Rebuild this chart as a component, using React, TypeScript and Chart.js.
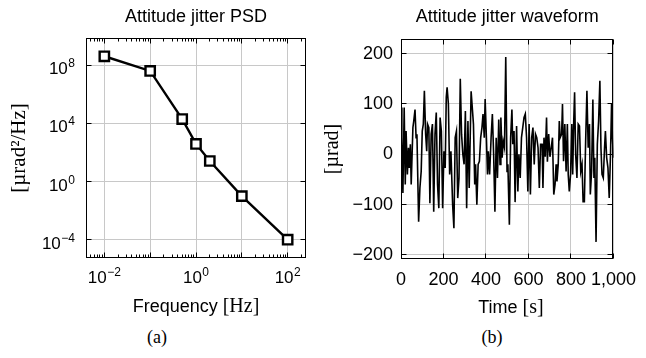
import React, { useEffect, useRef } from 'react';
import { Chart, registerables } from 'chart.js';
Chart.register(...registerables);

const SANS = '"Liberation Sans", Arial, sans-serif';
const SERIF = '"Liberation Serif", "Times New Roman", serif';
const GRID = '#c8c8c8';

// ---------- (a) Attitude jitter PSD ----------
const psdFrequency = [0.01, 0.1, 0.5, 1, 2, 10, 100];
const psdValue = [4.2e8, 4.1e7, 2.0e4, 390, 26, 0.1, 1e-4];
const psdXMajorTicks = [0.01, 0.1, 1, 10, 100];
const psdXLabelExponents = [-2, 0, 2];
const psdYMajorTicks = [1e-4, 1, 1e4, 1e8];
const psdYLabelExponents = [-4, 0, 4, 8];
const psdXRange = [10 ** -2.4, 10 ** 2.4];
const psdYRange = [10 ** -5.26, 10 ** 9.88];

// ---------- (b) Attitude jitter waveform ----------
const waveTime = [
  0, 4, 9, 15, 20, 24, 30, 35, 39, 44, 48, 56, 60, 66, 71, 75, 83, 89, 95, 100,
  105, 110, 116, 121, 125, 131, 136, 142, 148, 154, 160, 166, 172, 178, 184, 190, 196, 202, 208, 213,
  217, 223, 229, 235, 243, 249, 255, 261, 267, 273, 279, 285, 291, 297, 303, 309, 315, 321,
  330, 341, 347, 351, 357, 363, 369, 375, 381, 386, 392, 396, 402, 407, 411, 417, 424, 430, 436, 442,
  448, 454, 460, 466, 470, 476, 481, 487, 493, 499, 503, 510, 516, 522, 526, 532, 537, 544, 550, 555,
  561, 567, 573, 579, 585, 591, 597, 603, 609, 615, 621, 627, 633, 639, 645, 651, 657,
  664, 668, 673, 679, 685, 689, 695, 701, 707, 713, 719, 725, 730, 734, 740, 745, 749, 756, 760, 765,
  771, 777, 783, 787, 792, 798, 804, 808, 813, 817, 822, 828, 834, 840, 846, 852, 857, 863, 869, 875,
  881, 887, 891, 897, 903, 908, 912, 918, 924, 930, 936, 941, 946, 952, 958, 962, 968, 974, 980, 986,
  991, 995, 1000,
];
const waveValue = [
  93, 33, -77, 93, -60, 46, -40, 13, -27, 20, -60, 53, 66, 89, 33, 40, -134, -67, -34, 46,
  60, 126, 40, 6, 60, 53, -97, 40, 60, -114, 40, 83, -60, -107, 73, 46, -107, 6, -27, 113,
  133, 100, -40, 6, -100, -147, 33, 46, -87, -47, 150, 40, 0, -20, 86, -107, 66, -67,
  125, 60, -60, -20, -100, -20, -14, 33, 53, 80, 33, 110, 33, -40, 6, -40, 33, 80, 0, -114,
  33, -47, 69, -20, 73, -7, 26, 13, 193, -34, -20, -140, 33, 89, 20, 46, -95, 56, -74, 0,
  -47, 33, 53, 73, 80, 33, -74, 60, -80, 33, 53, -20, 40, 33, 13, -67, 20,
  20, -67, 33, -5, 73, -15, 40, -5, 13, 33, -80, -60, -20, -54, -20, 66, 33, 40, 100, -14,
  60, -34, 60, -40, -74, -40, 60, -40, 66, 123, 0, -47, 60, 56, -34, -20, -94, -94, 26, 126,
  13, 60, -80, -34, 109, -47, -7, -174, 20, 66, 146, 13, -40, -47, 13, 46, -7, -27, -87, 0,
  100, 33, -7,
];
const waveXTicks = [0, 200, 400, 600, 800, 1000];
const waveXLabels = ['0', '200', '400', '600', '800', '1,000'];
const waveYTicks = [-200, -100, 0, 100, 200];
const waveYLabels = ['\u2212200', '\u2212100', '0', '100', '200'];
const waveXRange = [0, 1000];
const waveYRange = [-208, 229];

// minor tick positions of the log frequency axis (2..9 x decade)
const psdXMinorTicks: number[] = [];
for (let d = -3; d <= 2; d++) {
  for (let m = 2; m <= 9; m++) {
    const v = m * 10 ** d;
    if (v > psdXRange[0] && v < psdXRange[1]) psdXMinorTicks.push(v);
  }
}

function drawPow(ctx: CanvasRenderingContext2D, exp: number, x: number, baseY: number, align: 'center' | 'right') {
  const base = 17;
  const sup = 12;
  const es = exp < 0 ? '\u2212' + Math.abs(exp) : String(exp);
  ctx.font = `${base}px ${SANS}`;
  const w1 = ctx.measureText('10').width;
  ctx.font = `${sup}px ${SANS}`;
  const w2 = ctx.measureText(es).width;
  const gap = 0.5;
  const total = w1 + gap + w2;
  const x0 = align === 'center' ? x - total / 2 : x - total;
  ctx.textAlign = 'left';
  ctx.textBaseline = 'alphabetic';
  ctx.fillStyle = '#000';
  ctx.font = `${base}px ${SANS}`;
  ctx.fillText('10', x0, baseY);
  ctx.font = `${sup}px ${SANS}`;
  ctx.fillText(es, x0 + w1 + gap, baseY - 7);
}

const frameTicks = {
  id: 'frameTicks',
  afterDatasetsDraw(chart: any, _args: any, opts: any) {
    const { ctx, chartArea: a, scales } = chart;
    const xs = scales.x;
    const ys = scales.y;
    const L = Math.floor(a.left) + 0.5;
    const R = Math.floor(a.right) - 0.5;
    const T = Math.floor(a.top) + 0.5;
    const B = Math.floor(a.bottom) - 0.5;
    ctx.save();
    ctx.strokeStyle = '#000';
    ctx.lineWidth = 1;
    const xt = (v: number, len: number) => {
      const p = Math.floor(xs.getPixelForValue(v)) + 0.5;
      ctx.beginPath();
      ctx.moveTo(p, B);
      ctx.lineTo(p, B - len);
      ctx.moveTo(p, T);
      ctx.lineTo(p, T + len);
      ctx.stroke();
    };
    const yt = (v: number, len: number) => {
      const p = Math.floor(ys.getPixelForValue(v)) + 0.5;
      ctx.beginPath();
      ctx.moveTo(L, p);
      ctx.lineTo(L + len, p);
      ctx.moveTo(R, p);
      ctx.lineTo(R - len, p);
      ctx.stroke();
    };
    (opts.xMajor || []).forEach((v: number) => xt(v, 5));
    (opts.xMinor || []).forEach((v: number) => xt(v, 3));
    (opts.yMajor || []).forEach((v: number) => yt(v, 5));
    ctx.strokeRect(L, T, R - L, B - T);
    if (opts.powLabels) {
      psdXLabelExponents.forEach((e) => {
        drawPow(ctx, e, xs.getPixelForValue(10 ** e), a.bottom + 25, 'center');
      });
      psdYLabelExponents.forEach((e) => {
        drawPow(ctx, e, a.left - 11, ys.getPixelForValue(10 ** e) + 9, 'right');
      });
    }
    ctx.restore();
  },
};

function titleOpts(text: string, bottom: number) {
  return {
    display: true,
    text,
    color: '#000',
    fullSize: false,
    align: 'center' as const,
    font: { family: SANS, size: 18, weight: 'normal' as const, lineHeight: 1.2 },
    padding: { top: 6, bottom },
  };
}

function psdConfig(): any {
  return {
    type: 'line',
    data: {
      datasets: [
        {
          data: psdFrequency.map((f, i) => ({ x: f, y: psdValue[i] })),
          borderColor: '#000',
          borderWidth: 2.4,
          pointStyle: 'rect',
          pointRadius: 6.6,
          pointBorderWidth: 2.4,
          pointBackgroundColor: '#fff',
          pointBorderColor: '#000',
          tension: 0,
        },
      ],
    },
    plugins: [frameTicks],
    options: {
      responsive: false,
      animation: false,
      devicePixelRatio: 1,
      layout: { padding: { left: 0, right: 17, top: 0, bottom: 0 } },
      plugins: {
        legend: { display: false },
        tooltip: { enabled: false },
        title: titleOpts('Attitude jitter PSD', 10.4),
        frameTicks: { xMajor: psdXMajorTicks, xMinor: psdXMinorTicks, yMajor: psdYMajorTicks, powLabels: true },
      },
      scales: {
        x: {
          type: 'logarithmic',
          min: psdXRange[0],
          max: psdXRange[1],
          afterBuildTicks: (s: any) => {
            s.ticks = psdXMajorTicks.map((v) => ({ value: v }));
          },
          afterFit: (s: any) => {
            s.height = 37;
          },
          ticks: { display: false },
          grid: { color: GRID, lineWidth: 1, drawTicks: false },
          border: { display: false },
        },
        y: {
          type: 'logarithmic',
          min: psdYRange[0],
          max: psdYRange[1],
          afterBuildTicks: (s: any) => {
            s.ticks = psdYMajorTicks.map((v) => ({ value: v }));
          },
          afterFit: (s: any) => {
            s.width = 86;
          },
          ticks: { display: false },
          grid: { color: GRID, lineWidth: 1, drawTicks: false },
          border: { display: false },
          title: {
            display: true,
            text: '[\u00B5rad\u00B2/Hz]',
            color: '#000',
            font: { family: SERIF, size: 21, lineHeight: 1 },
            padding: { top: 8.5, bottom: 0 },
          },
        },
      },
    },
  };
}

function waveConfig(): any {
  return {
    type: 'line',
    data: {
      datasets: [
        {
          data: waveTime.map((t, i) => ({ x: t, y: waveValue[i] })),
          borderColor: '#000',
          borderWidth: 1.6,
          pointRadius: 0,
          tension: 0,
        },
      ],
    },
    plugins: [frameTicks],
    options: {
      responsive: false,
      animation: false,
      devicePixelRatio: 1,
      layout: { padding: { left: 0, right: 24, top: 0, bottom: 0 } },
      plugins: {
        legend: { display: false },
        tooltip: { enabled: false },
        title: titleOpts('Attitude jitter waveform', 11.4),
        frameTicks: { xMajor: waveXTicks, yMajor: waveYTicks, powLabels: false },
      },
      scales: {
        x: {
          type: 'linear',
          min: waveXRange[0],
          max: waveXRange[1],
          afterBuildTicks: (s: any) => {
            s.ticks = waveXTicks.map((v) => ({ value: v }));
          },
          afterFit: (s: any) => {
            s.height = 36;
          },
          ticks: {
            color: '#000',
            font: { family: SANS, size: 18 },
            padding: 10,
            maxRotation: 0,
            autoSkip: false,
            callback: (_v: any, i: number) => waveXLabels[i],
          },
          grid: { color: GRID, lineWidth: 1, drawTicks: false },
          border: { display: false },
        },
        y: {
          type: 'linear',
          min: waveYRange[0],
          max: waveYRange[1],
          afterBuildTicks: (s: any) => {
            s.ticks = waveYTicks.map((v) => ({ value: v }));
          },
          afterFit: (s: any) => {
            s.width = 78;
          },
          ticks: {
            color: '#000',
            font: { family: SANS, size: 18 },
            padding: 8,
            autoSkip: false,
            callback: (_v: any, i: number) => waveYLabels[i],
          },
          grid: { color: GRID, lineWidth: 1, drawTicks: false },
          border: { display: false },
          title: {
            display: true,
            text: '[\u00B5rad]',
            color: '#000',
            font: { family: SERIF, size: 20, lineHeight: 1 },
            padding: { top: 0, bottom: 0 },
          },
        },
      },
    },
  };
}

const textBase: React.CSSProperties = {
  position: 'absolute',
  whiteSpace: 'nowrap',
  lineHeight: 1,
  transform: 'translateX(-50%)',
  color: '#000',
};

export default function App() {
  const lRef = useRef<HTMLCanvasElement>(null);
  const rRef = useRef<HTMLCanvasElement>(null);
  useEffect(() => {
    const c1 = new Chart(lRef.current as HTMLCanvasElement, psdConfig());
    const c2 = new Chart(rRef.current as HTMLCanvasElement, waveConfig());
    return () => {
      c1.destroy();
      c2.destroy();
    };
  }, []);
  return (
    <div style={{ position: 'absolute', left: 0, top: 0, width: 646, height: 358, background: '#fff', overflow: 'hidden' }}>
      <canvas ref={lRef} width={323} height={295} style={{ position: 'absolute', left: 0, top: 0 }} />
      <canvas ref={rRef} width={323} height={295} style={{ position: 'absolute', left: 323, top: 0 }} />
      <div style={{ ...textBase, left: 196, top: 295, fontFamily: SANS, fontSize: 18 }}>
        Frequency <span style={{ fontFamily: SERIF, fontSize: 20 }}>[Hz]</span>
      </div>
      <div style={{ ...textBase, left: 511, top: 296, fontFamily: SANS, fontSize: 18 }}>
        Time <span style={{ fontFamily: SERIF, fontSize: 20 }}>[s]</span>
      </div>
      <div style={{ ...textBase, left: 157, top: 328, fontFamily: SERIF, fontSize: 18 }}>(a)</div>
      <div style={{ ...textBase, left: 492, top: 328, fontFamily: SERIF, fontSize: 18 }}>(b)</div>
    </div>
  );
}
